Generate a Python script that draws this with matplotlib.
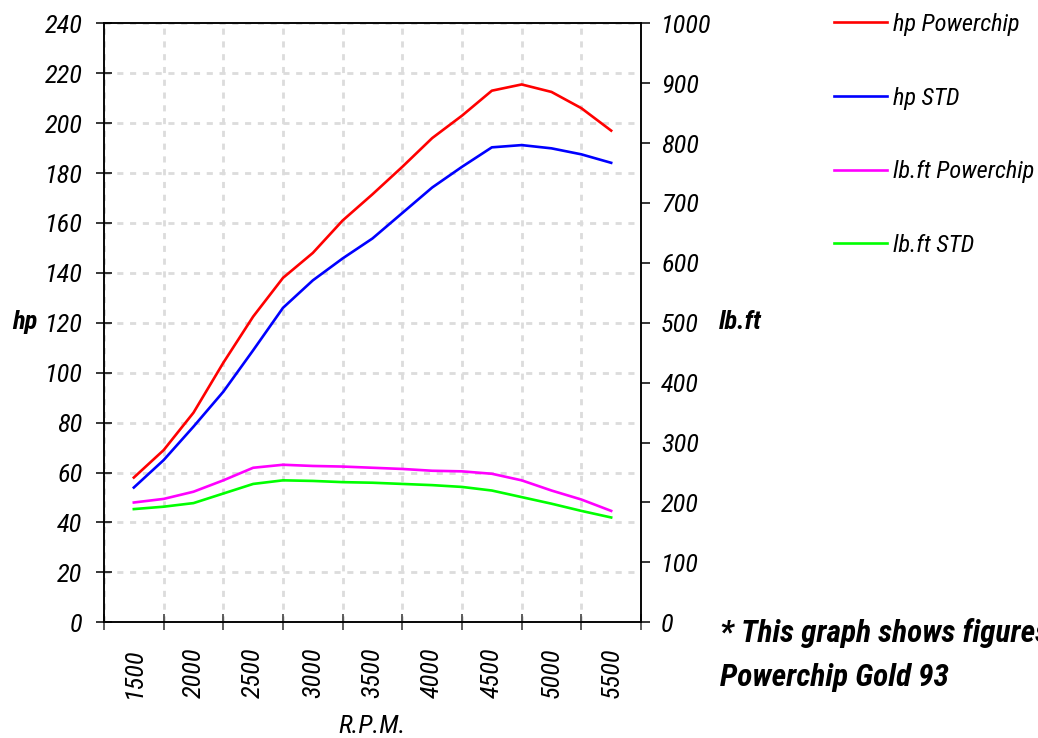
import matplotlib
matplotlib.use('Agg')
import matplotlib.pyplot as plt
from matplotlib import font_manager as fm
from matplotlib.ticker import FixedLocator, NullFormatter, FixedFormatter
from matplotlib.lines import Line2D

# ---------------- data ----------------
rpm = [1500, 1750, 2000, 2250, 2500, 2750, 3000, 3250, 3500,
       3750, 4000, 4250, 4500, 4750, 5000, 5250, 5500]
hp_powerchip = [58, 69, 84, 104, 122.5, 138, 148, 161, 171.5,
                182.5, 194, 203, 213, 215.5, 212.5, 206, 197]
hp_std = [54, 65, 78.4, 92.4, 109, 126, 137, 145.8, 153.8,
          164, 174.2, 182.5, 190.3, 191.2, 189.9, 187.5, 184.1]
lbft_powerchip = [200, 206, 218, 237, 258, 263, 261, 260, 258,
                  256, 253, 252, 248, 237, 220, 205, 186]
lbft_std = [189, 193, 199, 215, 231, 237, 236, 234, 233,
            231, 229, 226, 220, 209, 198, 186, 175]
x_labels = ['1500', '2000', '2500', '3000', '3500', '4000', '4500', '5000', '5500']
x_label_pos = [1500, 2000, 2500, 3000, 3500, 4000, 4500, 5000, 5500]
series_names = ['hp Powerchip', 'hp STD', 'lb.ft Powerchip', 'lb.ft STD']

# ---------------- font choice ----------------
names = {f.name for f in fm.fontManager.ttflist}
STRETCH = 'normal'
if 'Liberation Sans Narrow' in names:
    FAM = ['Liberation Sans Narrow', 'DejaVu Sans']
elif 'Roboto Condensed' in names:
    FAM = ['Roboto Condensed', 'DejaVu Sans']
elif any(f.name == 'DejaVu Sans' and str(f.stretch) in ('condensed', '400', 'semi-condensed')
         for f in fm.fontManager.ttflist):
    FAM = ['DejaVu Sans']
    STRETCH = 'condensed'
else:
    FAM = ['Liberation Sans', 'DejaVu Sans']

plt.rcParams['font.family'] = FAM
plt.rcParams['font.style'] = 'italic'
plt.rcParams['font.stretch'] = STRETCH
FS = 19

W, H = 1038, 738
fig = plt.figure(figsize=(W / 100, H / 100), dpi=100)
L, R, B, T = 104, 641, 622.3, 23.3
ax = fig.add_axes([L / W, 1 - B / H, (R - L) / W, (B - T) / H])
ax2 = ax.twinx()

# ---------------- lines ----------------
lw = 1.9
l1, = ax.plot(rpm, hp_powerchip, color='#ff0000', lw=lw, zorder=3)
l2, = ax.plot(rpm, hp_std, color='#0000ff', lw=lw, zorder=3)
l3, = ax2.plot(rpm, lbft_powerchip, color='#ff00ff', lw=lw, zorder=3)
l4, = ax2.plot(rpm, lbft_std, color='#00ff00', lw=lw, zorder=3)
for l in (l1, l2, l3, l4):
    l.set_solid_joinstyle('round')

# ---------------- axes ----------------
ax.set_xlim(1250, 5750)
ax.set_ylim(0, 240)
ax2.set_ylim(0, 1000)
ax.set_yticks(range(0, 241, 20))
ax2.set_yticks(range(0, 1001, 100))

ax.xaxis.set_major_locator(FixedLocator(list(range(1250, 5751, 500))))
ax.xaxis.set_major_formatter(NullFormatter())
ax.xaxis.set_minor_locator(FixedLocator(x_label_pos))
ax.xaxis.set_minor_formatter(FixedFormatter(x_labels))

ax.set_axisbelow(True)
ax.grid(True, which='major', color='#dcdcdc', lw=2.0, linestyle=(0, (2.2, 2.4)))

for a in (ax, ax2):
    for s in a.spines.values():
        s.set_linewidth(1.1)
        s.set_color('black')

ax.tick_params(axis='y', direction='inout', length=11, width=1.1, pad=10,
               labelsize=FS, colors='black')
ax.tick_params(axis='x', which='major', direction='inout', length=11, width=1.1,
               color='#333333')
ax.tick_params(axis='x', which='minor', length=0, pad=18, labelsize=FS,
               labelrotation=90)
for t in ax.xaxis.get_minorticklabels():
    t.set_va('top')
    t.set_ha('center')
ax2.tick_params(axis='y', direction='out', length=6.5, width=1.1, pad=8,
                labelsize=FS, colors='black')

ax.set_xlabel('R.P.M.', fontsize=FS, labelpad=12)

fig.text(12 / W, 1 - 329 / H, 'hp', fontsize=FS, fontweight='bold', va='baseline', ha='left')
fig.text(719 / W, 1 - 329 / H, 'lb.ft', fontsize=FS, fontweight='bold', va='baseline', ha='left')

# ---------------- legend ----------------
LFS = 17.6
handles = [Line2D([], [], color=l.get_color(), lw=lw) for l in (l1, l2, l3, l4)]
fig.legend(handles, series_names, loc='upper left',
           bbox_to_anchor=(834 / W, 1 - 13 / H), frameon=False,
           fontsize=LFS, handlelength=2.15, handletextpad=0.25,
           labelspacing=2.07, borderpad=0, borderaxespad=0)

# ---------------- footnote ----------------
fig.text(720 / W, 1 - 641.7 / H, '* This graph shows figures for', fontsize=22.6,
         fontweight='bold', va='baseline', ha='left')
fig.text(720 / W, 1 - 686 / H, 'Powerchip Gold 93', fontsize=22.6,
         fontweight='bold', va='baseline', ha='left')

fig.savefig('out.png', dpi=100)
